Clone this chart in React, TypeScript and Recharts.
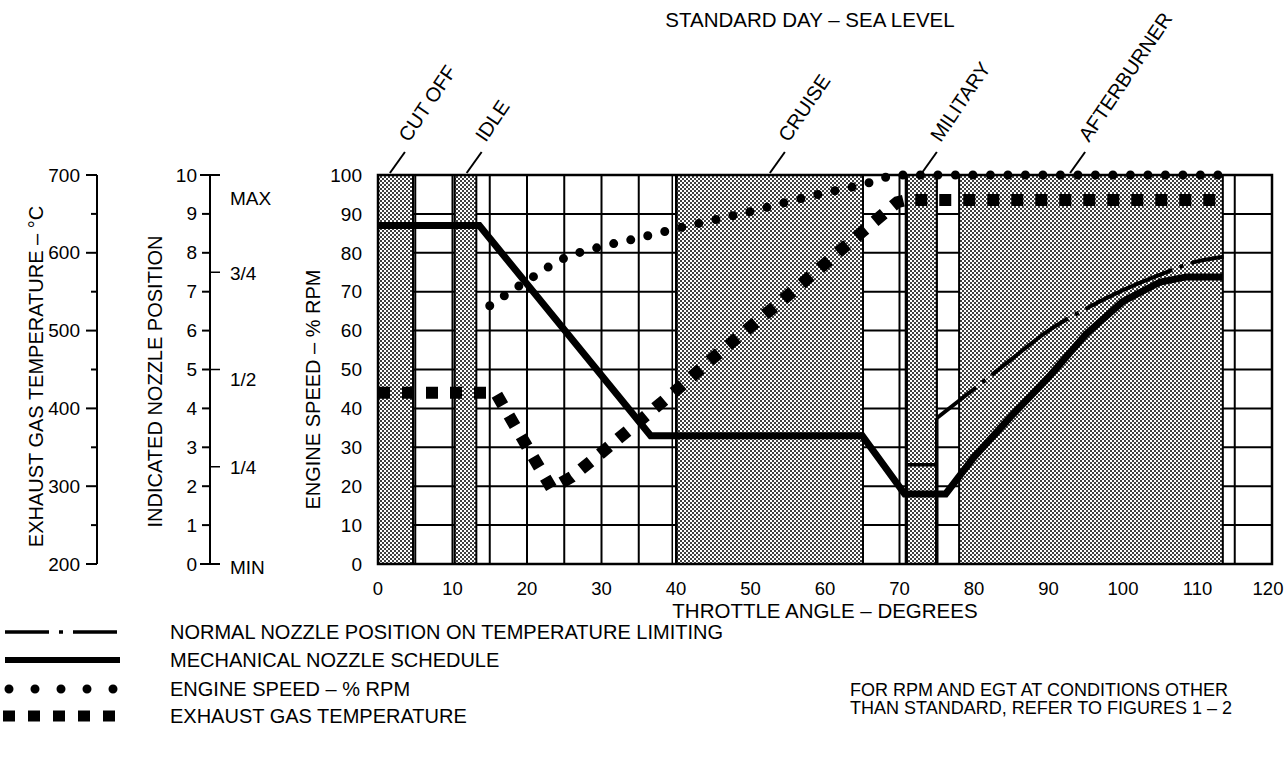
import React from 'react';
import {
  ComposedChart,
  Line,
  XAxis,
  YAxis,
  CartesianGrid,
  ReferenceArea,
  ReferenceLine,
  ReferenceDot,
  Label,
} from 'recharts';

const FONT = '"Liberation Sans", Arial, Helvetica, sans-serif';

// axis ticks
const xTicks = [0, 5, 10, 15, 20, 25, 30, 35, 40, 45, 50, 55, 60, 65, 70, 75, 80, 85, 90, 95, 100, 105, 110, 115, 120];
const rpmTicks = [0, 10, 20, 30, 40, 50, 60, 70, 80, 90, 100];
const nozzleTicks = [0, 1, 2, 2.5, 3, 4, 5, 6, 7, 7.5, 8, 9, 10];
const nozzleFractions: Record<string, string> = { '2.5': '1/4', '5': '1/2', '7.5': '3/4' };
const egtTicks = [200, 250, 300, 350, 400, 450, 500, 550, 600, 650, 700];

// shaded throttle bands (degrees)
const bandStart = [0, 10.3, 40.1, 71, 78];
const bandEnd = [4.7, 13.2, 65.1, 75, 113.4];

// throttle positions called out above the grid
const phaseNames = ['CUT OFF', 'IDLE', 'CRUISE', 'MILITARY', 'AFTERBURNER'];
const phaseAngle = [1.6, 11.9, 52.6, 73, 92.9];

// engine speed - % rpm
const rpmAngle = [15, 20, 25, 30, 35, 40, 45, 50, 55, 60, 65, 70, 113.2];
const rpmPct = [66.4, 72.8, 78.6, 81.6, 83.8, 86.2, 88.4, 90.6, 93.1, 95.4, 97.5, 100, 100];

// exhaust gas temperature - deg C
const egtAngle = [0, 15.8, 23.3, 26, 30, 35, 40, 45, 50, 55, 60, 65, 69.7, 71, 113.5];
const egtDegC = [420, 420, 297, 312, 343, 383, 423, 465, 505, 545, 586, 627, 665, 668, 668];

// mechanical nozzle schedule - indicated position
const mechAngle = [0, 13.6, 36.6, 65, 70.7, 76.2, 80, 85, 90, 95, 100, 105, 108.5, 113.4];
const mechPos = [8.7, 8.7, 3.3, 3.3, 1.8, 1.8, 2.75, 3.8, 4.8, 5.9, 6.75, 7.25, 7.38, 7.38];

// normal nozzle position on temperature limiting
const stemAngle = [71, 75, 75, 75];
const stemPos = [2.55, 2.55, 0, 3.75];
const limitAngle = [75, 80, 85, 90, 95, 100, 105, 110, 113.5];
const limitPos = [3.75, 4.5, 5.26, 6.0, 6.56, 7.04, 7.44, 7.78, 7.9];

const zip = (xs: number[], vs: number[]) => xs.map((x, i) => ({ x, v: vs[i] }));

const rpmData = zip(rpmAngle, rpmPct);
const egtData = zip(egtAngle, egtDegC);
const mechData = zip(mechAngle, mechPos);
const stemData = zip(stemAngle, stemPos);
const limitData = zip(limitAngle, limitPos);

// axis ids sort in the order the axes stack away from the plot
const RPM = 'a_rpm';
const NOZZLE = 'b_nozzle';
const EGT = 'c_egt';

const EgtTick = ({ x, y, payload }: any) => {
  const major = payload.value % 100 === 0;
  return (
    <g>
      <line x1={x - (major ? 11 : 6)} x2={x} y1={y} y2={y} stroke="#000" strokeWidth={2} />
      {major && (
        <text x={x - 17} y={y} textAnchor="end" dominantBaseline="central" fontSize={19} fontFamily={FONT} fill="#000">
          {payload.value}
        </text>
      )}
    </g>
  );
};

const NozzleTick = ({ x, y, payload }: any) => {
  const v = payload.value;
  const frac = nozzleFractions[String(v)];
  const end = v === 0 || v === 10;
  return (
    <g fontFamily={FONT} fontSize={19} fill="#000">
      {Number.isInteger(v) && (
        <>
          <line x1={x - (end ? 10 : 8)} x2={end ? x + 10 : x} y1={y} y2={y} stroke="#000" strokeWidth={2} />
          <text x={x - 13} y={y} textAnchor="end" dominantBaseline="central">{v}</text>
        </>
      )}
      {frac && (
        <>
          <line x1={x} x2={x + 10} y1={y} y2={y} stroke="#000" strokeWidth={1.5} />
          <text x={x + 20} y={y + (v === 5 ? 10 : 1)} dominantBaseline="central">{frac}</text>
        </>
      )}
      {v === 10 && <text x={x + 20} y={y + 23} dominantBaseline="central">MAX</text>}
      {v === 0 && <text x={x + 20} y={y + 3} dominantBaseline="central">MIN</text>}
    </g>
  );
};

const XTick = ({ x, y, payload }: any) => {
  const v = payload.value;
  if (v % 10 !== 0) return null;
  return (
    <text x={v === 120 ? x - 4 : x} y={y} textAnchor="middle" dominantBaseline="central" fontSize={18.5} fontFamily={FONT} fill="#000">
      {v}
    </text>
  );
};

const axisTitle = (text: string, dx: number, dy: number) => (props: any) => {
  const vb = props.viewBox || {};
  const cx = vb.x + dx;
  const cy = vb.y + vb.height / 2 + dy;
  return (
    <text
      x={cx}
      y={cy}
      transform={`rotate(-90 ${cx} ${cy})`}
      textAnchor="middle"
      dominantBaseline="central"
      fontSize={20}
      fontFamily={FONT}
      fill="#000"
    >
      {text}
    </text>
  );
};

const PhaseLabel = ({ cx, cy, text }: any) => {
  const tx = cx + 19;
  const ty = cy - 32;
  return (
    <g>
      <line x1={cx} y1={cy - 2} x2={cx + 15} y2={cy - 23} stroke="#000" strokeWidth={2} />
      <text x={tx} y={ty} transform={`rotate(-56 ${tx} ${ty})`} fontSize={20} fontFamily={FONT} fill="#000">
        {text}
      </text>
    </g>
  );
};

export default function App() {
  return (
    <div style={{ position: 'absolute', left: 0, top: 0, width: 1286, height: 768, background: '#fff' }}>
      <svg width={0} height={0} style={{ position: 'absolute' }}>
        <defs>
          <pattern id="stipple" width="4" height="4" patternUnits="userSpaceOnUse">
            <rect width="4" height="4" fill="#fff" />
            <circle cx="1" cy="1" r="1.0" fill="#000" />
            <circle cx="3" cy="3" r="1.0" fill="#000" />
          </pattern>
        </defs>
      </svg>
      <ComposedChart width={1286} height={768} margin={{ top: 175, right: 14, bottom: 144, left: 0 }}>
        <XAxis
          dataKey="x"
          type="number"
          domain={[0, 120]}
          ticks={xTicks}
          interval={0}
          axisLine={false}
          tickLine={false}
          tickSize={0}
          tickMargin={24}
          height={60}
          tick={<XTick />}
        >
          <Label
            value="THROTTLE ANGLE – DEGREES"
            position="insideBottom"
            offset={6}
            style={{ fontSize: 20.5, fill: '#000', fontFamily: FONT }}
          />
        </XAxis>
        <YAxis
          yAxisId={EGT}
          width={97}
          domain={[200, 700]}
          ticks={egtTicks}
          interval={0}
          axisLine={{ stroke: '#000', strokeWidth: 2 }}
          tickLine={false}
          tickSize={0}
          tickMargin={0}
          tick={<EgtTick />}
        >
          <Label content={axisTitle('EXHAUST GAS TEMPERATURE – °C', 36, 7)} />
        </YAxis>
        <YAxis
          yAxisId={NOZZLE}
          width={113}
          domain={[0, 10]}
          ticks={nozzleTicks}
          interval={0}
          axisLine={{ stroke: '#000', strokeWidth: 2 }}
          tickLine={false}
          tickSize={0}
          tickMargin={0}
          tick={<NozzleTick />}
        >
          <Label content={axisTitle('INDICATED NOZZLE POSITION', 58, 12)} />
        </YAxis>
        <YAxis
          yAxisId={RPM}
          width={168}
          domain={[0, 100]}
          ticks={rpmTicks}
          interval={0}
          axisLine={false}
          tickLine={false}
          tickSize={0}
          tickMargin={16}
          tick={{ fontSize: 19, fill: '#000', fontFamily: FONT }}
        >
          <Label content={axisTitle('ENGINE SPEED – % RPM', 103, 20)} />
        </YAxis>

        {bandStart.map((s, i) => (
          <ReferenceArea
            key={`band-${i}`}
            yAxisId={RPM}
            x1={s}
            x2={bandEnd[i]}
            y1={0}
            y2={100}
            fill="url(#stipple)"
            fillOpacity={1}
            stroke="#000"
            strokeWidth={2}
          />
        ))}
        <CartesianGrid yAxisId={RPM} stroke="#000" strokeWidth={2} strokeOpacity={1} />
        <ReferenceLine yAxisId={RPM} x={39.5} stroke="#000" strokeWidth={1.5} />
        <ReferenceLine yAxisId={RPM} x={70.8} stroke="#000" strokeWidth={1.5} />
        <ReferenceArea
          yAxisId={RPM}
          x1={0}
          x2={120}
          y1={0}
          y2={100}
          fill="none"
          stroke="#000"
          strokeWidth={2.5}
        />

        {phaseNames.map((name, i) => (
          <ReferenceDot
            key={name}
            yAxisId={RPM}
            x={phaseAngle[i]}
            y={100}
            r={0}
            ifOverflow="visible"
            shape={(p: any) => <PhaseLabel cx={p.cx} cy={p.cy} text={name} />}
          />
        ))}

        <Line
          data={mechData}
          yAxisId={NOZZLE}
          dataKey="v"
          type="linear"
          stroke="#000"
          strokeWidth={7}
          dot={false}
          activeDot={false}
          isAnimationActive={false}
        />
        <Line
          data={stemData}
          yAxisId={NOZZLE}
          dataKey="v"
          type="linear"
          stroke="#000"
          strokeWidth={3.5}
          dot={false}
          activeDot={false}
          isAnimationActive={false}
        />
        <Line
          data={limitData}
          yAxisId={NOZZLE}
          dataKey="v"
          type="monotone"
          stroke="#000"
          strokeWidth={4}
          strokeDasharray="95 8 4 8"
          strokeDashoffset={45}
          dot={false}
          activeDot={false}
          isAnimationActive={false}
        />
        <Line
          data={rpmData}
          yAxisId={RPM}
          dataKey="v"
          type="monotone"
          stroke="#000"
          strokeWidth={9}
          strokeLinecap="round"
          strokeDasharray="0 17.5"
          dot={false}
          activeDot={false}
          isAnimationActive={false}
        />
        <Line
          data={egtData}
          yAxisId={EGT}
          dataKey="v"
          type="linear"
          stroke="#000"
          strokeWidth={12}
          strokeLinecap="butt"
          strokeDasharray="12 12"
          dot={false}
          activeDot={false}
          isAnimationActive={false}
        />
      </ComposedChart>

      <svg
        width={1286}
        height={768}
        style={{ position: 'absolute', left: 0, top: 0, pointerEvents: 'none' }}
        fontFamily={FONT}
        fill="#000"
      >
        <text x={810} y={27} textAnchor="middle" fontSize={20.5}>STANDARD DAY – SEA LEVEL</text>

        <line x1={5} x2={120} y1={632} y2={632} stroke="#000" strokeWidth={3.5} strokeDasharray="44 10 4 10" />
        <line x1={5} x2={120} y1={660} y2={660} stroke="#000" strokeWidth={6} />
        <line x1={9} x2={120} y1={689} y2={689} stroke="#000" strokeWidth={9} strokeLinecap="round" strokeDasharray="0 26" />
        <line x1={3} x2={120} y1={716} y2={716} stroke="#000" strokeWidth={11} strokeDasharray="12 13" />
        <g fontSize={20} dominantBaseline="central">
          <text x={170} y={632}>NORMAL NOZZLE POSITION ON TEMPERATURE LIMITING</text>
          <text x={170} y={660}>MECHANICAL NOZZLE SCHEDULE</text>
          <text x={170} y={689}>ENGINE SPEED – % RPM</text>
          <text x={170} y={716}>EXHAUST GAS TEMPERATURE</text>
        </g>
        <g fontSize={18} dominantBaseline="central">
          <text x={850} y={690}>FOR RPM AND EGT AT CONDITIONS OTHER</text>
          <text x={850} y={708}>THAN STANDARD, REFER TO FIGURES 1 – 2</text>
        </g>
      </svg>
    </div>
  );
}
